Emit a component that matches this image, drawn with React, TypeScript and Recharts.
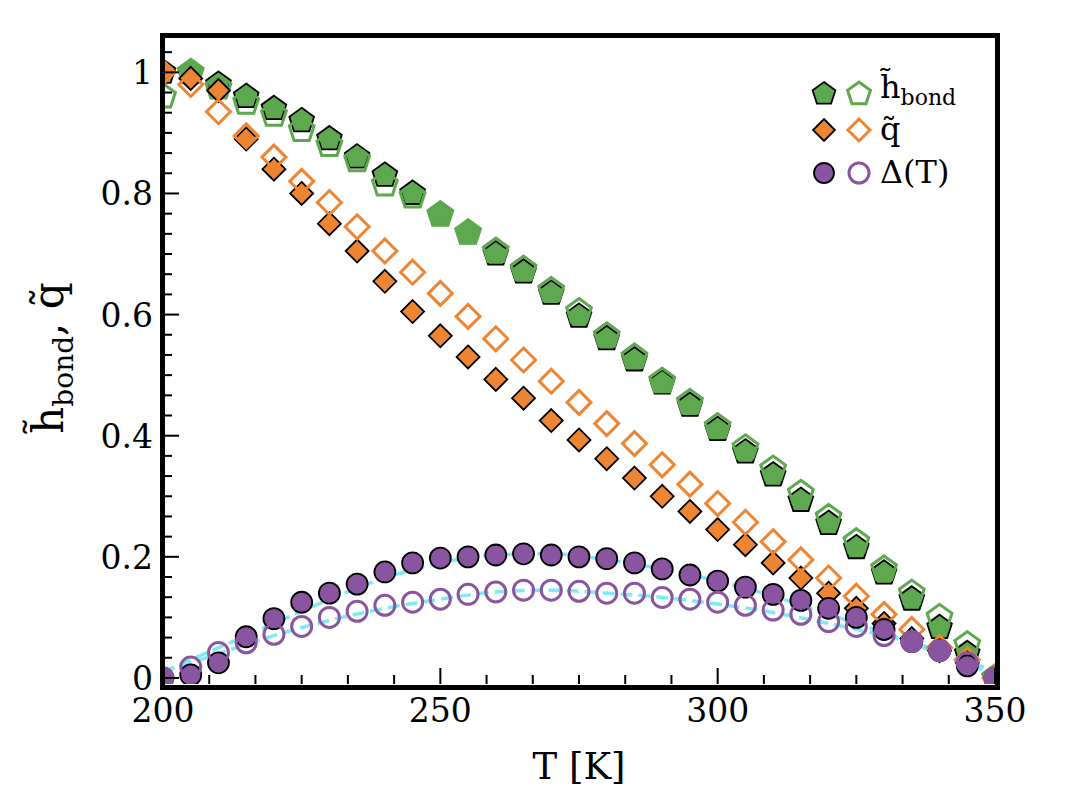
import React from 'react';
import { ComposedChart, Scatter, Line, XAxis, YAxis } from 'recharts';

const temps = [200,205,210,215,220,225,230,235,240,245,250,255,260,265,270,275,280,285,290,295,300,305,310,315,320,325,330,335,340,345,350];
const hFilled = [1.0,1.0,0.98,0.96,0.94,0.92,0.89,0.86,0.83,0.80,0.765,0.735,0.70,0.67,0.635,0.597,0.56,0.525,0.487,0.45,0.41,0.373,0.335,0.293,0.255,0.215,0.173,0.13,0.083,0.04,0.0];
const hOpen = [0.96,1.0,0.975,0.95,0.93,0.905,0.88,0.855,0.815,0.795,0.765,0.735,0.705,0.675,0.64,0.605,0.565,0.53,0.49,0.455,0.415,0.38,0.345,0.305,0.265,0.225,0.18,0.14,0.1,0.055,0.0];
const qFilled = [1.0,0.99,0.97,0.89,0.84,0.80,0.75,0.705,0.655,0.605,0.565,0.53,0.493,0.462,0.425,0.393,0.362,0.33,0.30,0.275,0.245,0.22,0.19,0.165,0.14,0.115,0.09,0.065,0.045,0.025,0.0];
const qOpen = [1.0,0.98,0.935,0.895,0.86,0.82,0.785,0.745,0.705,0.67,0.635,0.597,0.56,0.525,0.49,0.455,0.42,0.387,0.352,0.32,0.288,0.257,0.225,0.195,0.165,0.135,0.105,0.08,0.05,0.03,0.0];
const dFilled = [0.0,0.005,0.025,0.068,0.098,0.125,0.14,0.155,0.175,0.19,0.198,0.2,0.203,0.205,0.203,0.2,0.197,0.19,0.18,0.17,0.16,0.15,0.138,0.128,0.115,0.1,0.08,0.06,0.045,0.02,0.0];
const dOpen = [0.0,0.018,0.042,0.058,0.072,0.085,0.1,0.11,0.12,0.125,0.13,0.138,0.142,0.145,0.145,0.143,0.14,0.14,0.133,0.13,0.125,0.12,0.112,0.105,0.093,0.085,0.07,0.06,0.045,0.025,0.0];
const fitT = [200,210,220,230,240,250,260,270,280,290,300,310,320,330,340,350];
const fitUpper = [0.01,0.05,0.09,0.13,0.165,0.19,0.203,0.205,0.195,0.18,0.16,0.135,0.105,0.075,0.04,0.005];
const fitLower = [0.01,0.04,0.07,0.095,0.115,0.13,0.142,0.145,0.14,0.133,0.122,0.108,0.09,0.07,0.045,0.01];
const xMajor = [200,250,300,350];
const yMajor = [0,0.2,0.4,0.6,0.8,1];
const yLabels = ['0','0.2','0.4','0.6','0.8','1'];

const xTicks = Array.from({ length: 19 }, (_, k) => 200 + (k * 50) / 6);
const yTicks = Array.from({ length: 32 }, (_, k) => k / 30);

const mk = (ys: number[]) => temps.map((t, i) => ({ x: t, y: ys[i] }));
const mkFit = (ys: number[]) => fitT.map((t, i) => ({ x: t, y: ys[i] }));

const GREEN = '#5ea84f';
const ORANGE = '#ee8533';
const PURPLE = '#8a55a0';
const CYAN = '#7eeaf5';
const FONT = "'DejaVu Serif', serif";

const pent = (cx: number, cy: number, r: number) =>
  Array.from({ length: 5 }, (_, i) => {
    const a = -Math.PI / 2 + (i * 2 * Math.PI) / 5;
    return `${cx + r * Math.cos(a)},${cy + r * Math.sin(a)}`;
  }).join(' ');

const Pent = (fill: string, stroke: string) => (p: any) =>
  <polygon points={pent(p.cx, p.cy, 13)} fill={fill} stroke={stroke} strokeWidth={fill === 'none' ? 3 : 1.8} />;
const Diam = (fill: string, stroke: string) => (p: any) => {
  const r = fill === 'none' ? 12 : 11.5;
  return <polygon points={`${p.cx},${p.cy - r} ${p.cx + r},${p.cy} ${p.cx},${p.cy + r} ${p.cx - r},${p.cy}`} fill={fill} stroke={stroke} strokeWidth={fill === 'none' ? 3 : 1.8} />;
};
const Circ = (fill: string, stroke: string) => (p: any) =>
  <circle cx={p.cx} cy={p.cy} r={fill === 'none' ? 10 : 10.5} fill={fill} stroke={stroke} strokeWidth={fill === 'none' ? 3 : 1.8} />;

const near = (a: number, b: number) => Math.abs(a - b) < 1e-6;

const XTick = (p: any) => {
  const v = p.payload.value;
  const major = xMajor.some((m) => near(m, v));
  const top = 684;
  return (
    <g>
      <line x1={p.x} x2={p.x} y1={top} y2={top - (major ? 16 : 9)} stroke="#000" strokeWidth={2} />
      {major && <text x={p.x} y={top + 38} textAnchor="middle" fontSize={33} fontFamily={FONT} fill="#000">{Math.round(v)}</text>}
    </g>
  );
};
const YTick = (p: any) => {
  const v = p.payload.value;
  const idx = yMajor.findIndex((m) => near(m, v));
  const left = 163;
  if (v > 1.06) return <g />;
  return (
    <g>
      <line x1={left} x2={left + (idx >= 0 ? 16 : 9)} y1={p.y} y2={p.y} stroke="#000" strokeWidth={2} />
      {idx >= 0 && <text x={left - 10} y={p.y + 12} textAnchor="end" fontSize={33} fontFamily={FONT} fill="#000">{yLabels[idx]}</text>}
    </g>
  );
};

const LegendRow = ({ top, filled, open, label }: any) => (
  <div style={{ position: 'absolute', left: 806, top, display: 'flex', alignItems: 'center' }}>
    <svg width={70} height={34}>{filled}{open}</svg>
    <span style={{ fontFamily: FONT, fontSize: 32, marginLeft: 4, lineHeight: '34px' }}>{label}</span>
  </div>
);

export default function App() {
  return (
    <div style={{ position: 'absolute', left: 0, top: 0, width: 1080, height: 803, background: '#fff' }}>
      <ComposedChart width={1080} height={803} margin={{ top: 36, right: 85, bottom: 0, left: 103 }}>
        <XAxis type="number" dataKey="x" domain={[200, 350]} ticks={xTicks} tick={XTick} tickLine={false} axisLine={false} height={119} allowDataOverflow interval={0} />
        <YAxis type="number" dataKey="y" domain={[-0.01, 1.06]} ticks={yTicks} tick={YTick} tickLine={false} axisLine={false} width={60} allowDataOverflow interval={0} />
        <Scatter data={mk(hFilled)} shape={Pent(GREEN, '#000')} isAnimationActive={false} />
        <Scatter data={mk(hOpen)} shape={Pent('none', GREEN)} isAnimationActive={false} />
        <Scatter data={mk(qFilled)} shape={Diam(ORANGE, '#000')} isAnimationActive={false} />
        <Scatter data={mk(qOpen)} shape={Diam('none', ORANGE)} isAnimationActive={false} />
        <Scatter data={mk(dFilled)} shape={Circ(PURPLE, '#000')} isAnimationActive={false} />
        <Scatter data={mk(dOpen)} shape={Circ('none', PURPLE)} isAnimationActive={false} />
        <Line data={mkFit(fitUpper)} dataKey="y" type="monotone" stroke={CYAN} strokeWidth={3.5} strokeDasharray="12 6" dot={false} isAnimationActive={false} />
        <Line data={mkFit(fitLower)} dataKey="y" type="monotone" stroke={CYAN} strokeWidth={3.5} strokeDasharray="12 6" dot={false} isAnimationActive={false} />
      </ComposedChart>
      <div style={{ position: 'absolute', left: 160, top: 33, width: 830, height: 647, border: '5px solid #000', pointerEvents: 'none' }} />
      <LegendRow top={70} label={<span>h&#771;<sub style={{ fontSize: 22 }}>bond</sub></span>}
        filled={<polygon points={pent(18, 18, 12)} fill={GREEN} stroke="#000" strokeWidth={1.8} />}
        open={<polygon points={pent(53, 18, 12)} fill="none" stroke={GREEN} strokeWidth={3} />} />
      <LegendRow top={112} label={<span>q&#771;</span>}
        filled={<polygon points="18,7 29,18 18,29 7,18" fill={ORANGE} stroke="#000" strokeWidth={1.8} />}
        open={<polygon points="53,7 64,18 53,29 42,18" fill="none" stroke={ORANGE} strokeWidth={3} />} />
      <LegendRow top={155} label={<span>&Delta;(T)</span>}
        filled={<circle cx={18} cy={18} r={10} fill={PURPLE} stroke="#000" strokeWidth={1.8} />}
        open={<circle cx={53} cy={18} r={10} fill="none" stroke={PURPLE} strokeWidth={3} />} />
      <div style={{ position: 'absolute', left: 0, top: 745, width: 1080, paddingLeft: 163, boxSizing: 'border-box' }}>
        <div style={{ width: 832, textAlign: 'center', fontFamily: FONT, fontSize: 37 }}>T [K]</div>
      </div>
      <div style={{ position: 'absolute', left: 52, top: 358, width: 0, height: 0 }}>
        <div style={{ position: 'absolute', transform: 'translate(-50%, -50%) rotate(-90deg)', whiteSpace: 'nowrap', fontFamily: FONT, fontSize: 42 }}>
          h&#771;<sub style={{ fontSize: 28 }}>bond</sub>, q&#771;
        </div>
      </div>
    </div>
  );
}
